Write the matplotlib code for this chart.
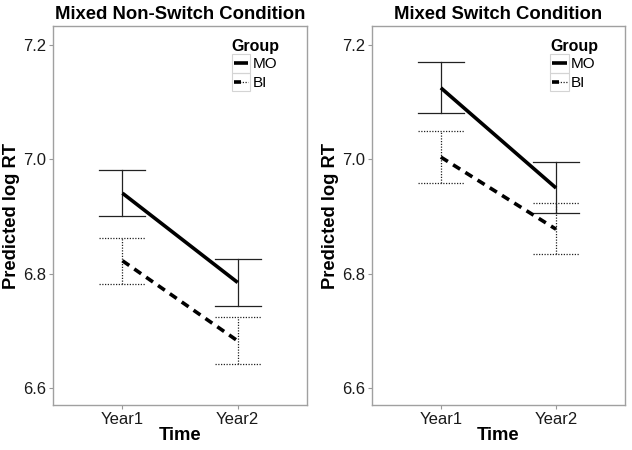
import matplotlib
matplotlib.use("Agg")
import matplotlib.pyplot as plt
from matplotlib.lines import Line2D
from matplotlib.patches import Rectangle
from matplotlib.legend_handler import HandlerBase

plt.rcParams['font.family'] = ['Liberation Sans', 'DejaVu Sans']

times = ["Year1", "Year2"]
titles = ["Mixed Non-Switch Condition", "Mixed Switch Condition"]
groups = ["MO", "BI"]

# panel 1: Mixed Non-Switch
ns_mo_mean = [6.941, 6.785]
ns_mo_low = [6.902, 6.744]
ns_mo_high = [6.981, 6.826]
ns_bi_mean = [6.823, 6.683]
ns_bi_low = [6.782, 6.642]
ns_bi_high = [6.862, 6.725]

# panel 2: Mixed Switch
sw_mo_mean = [7.125, 6.950]
sw_mo_low = [7.081, 6.907]
sw_mo_high = [7.170, 6.995]
sw_bi_mean = [7.004, 6.878]
sw_bi_low = [6.959, 6.835]
sw_bi_high = [7.049, 6.923]

panels = [
    dict(MO=(ns_mo_mean, ns_mo_low, ns_mo_high), BI=(ns_bi_mean, ns_bi_low, ns_bi_high)),
    dict(MO=(sw_mo_mean, sw_mo_low, sw_mo_high), BI=(sw_bi_mean, sw_bi_low, sw_bi_high)),
]

yticks = [6.6, 6.8, 7.0, 7.2]

THICK = 2.6
THIN = 0.9
DASH = (0, (2.3, 1.7))
DOT = (0, (1, 1.2))

styles = {
    "MO": dict(line_ls="-", err_ls="-"),
    "BI": dict(line_ls=DASH, err_ls=DOT),
}


class KeyHandler(HandlerBase):
    def __init__(self, kind):
        super().__init__()
        self.kind = kind

    def create_artists(self, legend, orig_handle, xdescent, ydescent, width, height,
                       fontsize, trans):
        x0, y0 = -xdescent, -ydescent
        rect = Rectangle((x0, y0), width, height, fill=False, edgecolor="#d4d4d4",
                         lw=0.8, transform=trans)
        yc = y0 + height / 2
        arts = [rect]
        if self.kind == "MO":
            arts.append(Line2D([x0 + 1.5, x0 + width - 1.5], [yc, yc], color="black",
                               lw=THICK, solid_capstyle="butt", transform=trans))
        else:
            arts.append(Line2D([x0 + 1.5, x0 + width - 1.5], [yc, yc], color="#222222",
                               lw=THIN, ls=DOT, transform=trans))
            arts.append(Line2D([x0 + 1.5, x0 + width * 0.5], [yc, yc], color="black",
                               lw=THICK, solid_capstyle="butt", transform=trans))
        return arts


fig = plt.figure(figsize=(6.32, 4.5), dpi=100)
lefts = [53.3 / 632, 371.7 / 632]
width = 253.5 / 632
bottom = 45 / 450
height = 379 / 450

for i, (pdata, title) in enumerate(zip(panels, titles)):
    ax = fig.add_axes([lefts[i], bottom, width, height])
    x = list(range(1, len(times) + 1))
    for g in groups:
        mean, low, high = pdata[g]
        st = styles[g]
        ax.plot(x, mean, color="black", lw=THICK, ls=st["line_ls"], solid_capstyle="butt",
                dash_capstyle="butt", zorder=3)
        for xi, lo, hi in zip(x, low, high):
            ax.plot([xi, xi], [lo, hi], color="#222222", lw=THIN, ls=st["err_ls"], zorder=2)
            ax.plot([xi - 0.2, xi + 0.2], [lo, lo], color="#222222", lw=THIN, ls=st["err_ls"], zorder=2)
            ax.plot([xi - 0.2, xi + 0.2], [hi, hi], color="#222222", lw=THIN, ls=st["err_ls"], zorder=2)
    ax.set_xlim(0.4, 2.6)
    ax.set_ylim(6.571, 7.233)
    ax.set_xticks(x)
    ax.set_xticklabels(times)
    ax.set_yticks(yticks)
    ax.set_yticklabels([f"{v:.1f}" for v in yticks])
    ax.tick_params(axis="both", labelsize=12, colors="#999999", labelcolor="#1a1a1a",
                   length=3, width=0.8, pad=2)
    for s in ax.spines.values():
        s.set_color("#a0a0a0")
        s.set_linewidth(1.0)
    ax.set_title(title, fontsize=13.3, fontweight="bold", pad=5)
    ax.set_xlabel("Time", fontsize=13.3, fontweight="bold", labelpad=0)
    ax.set_ylabel("Predicted log RT", fontsize=13.2, fontweight="bold", labelpad=2)

    h_mo = Line2D([], [])
    h_bi = Line2D([], [])
    leg = ax.legend([h_mo, h_bi], groups,
                    handler_map={h_mo: KeyHandler("MO"), h_bi: KeyHandler("BI")},
                    title="Group", loc="upper left", bbox_to_anchor=(0.703, 0.965),
                    frameon=False, fontsize=11, handlelength=1.24, handleheight=1.47,
                    handletextpad=0.12, labelspacing=0.0, borderpad=0, borderaxespad=0,
                    title_fontproperties={"weight": "bold", "size": 11.5}, alignment="left")

fig.savefig("out.png", dpi=100)
